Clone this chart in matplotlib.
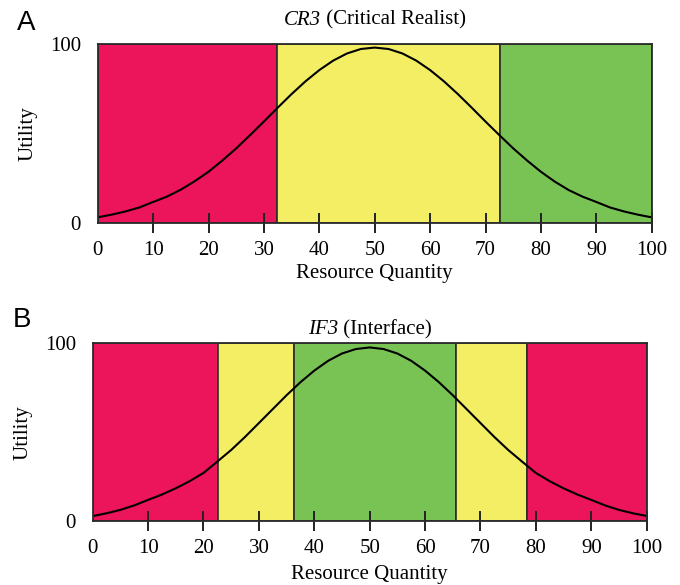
import matplotlib
matplotlib.use("Agg")
import matplotlib.pyplot as plt
from matplotlib.patches import Rectangle
from matplotlib.offsetbox import TextArea, HPacker, AnchoredOffsetbox

plt.rcParams['font.family'] = ['Liberation Serif', 'DejaVu Serif']

# resource axis sampled every 2.5 units
quantity = [0, 2.5, 5, 7.5, 10, 12.5, 15, 17.5, 20, 22.5, 25, 27.5, 30, 32.5, 35,
            37.5, 40, 42.5, 45, 47.5, 50, 52.5, 55, 57.5, 60, 62.5, 65, 67.5, 70,
            72.5, 75, 77.5, 80, 82.5, 85, 87.5, 90, 92.5, 95, 97.5, 100]

utility_cr3 = [3.0, 4.5, 6.3, 8.5, 11.6, 14.6, 18.5, 23.2, 28.5, 34.8, 41.6, 49.0,
               56.6, 64.4, 72.0, 79.1, 85.4, 90.7, 94.7, 97.2, 98.0, 97.2, 94.7,
               90.7, 85.4, 79.1, 72.0, 64.4, 56.6, 49.0, 41.6, 34.8, 28.5, 23.0,
               18.3, 14.6, 11.6, 8.5, 6.3, 4.5, 3.0]

utility_if3 = [2.9, 4.5, 6.4, 8.9, 12.0, 15.0, 18.5, 22.5, 27.1, 33.5, 40.0, 47.3,
               55.1, 62.9, 70.7, 78.0, 84.5, 90.0, 94.1, 96.6, 97.5, 96.6, 94.1,
               90.0, 84.5, 78.0, 70.7, 62.9, 55.1, 47.3, 40.0, 33.5, 27.1, 22.5,
               18.5, 15.0, 12.0, 8.9, 6.4, 4.5, 3.0]

# zones: (start, end, colour name)
zones_cr3 = [(0, 32.4, 'red'), (32.4, 72.6, 'yellow'), (72.6, 100, 'green')]
zones_if3 = [(0, 22.7, 'red'), (22.7, 36.4, 'yellow'), (36.4, 65.6, 'green'),
             (65.6, 78.4, 'yellow'), (78.4, 100, 'red')]

x_ticks = [0, 10, 20, 30, 40, 50, 60, 70, 80, 90, 100]
y_ticks = [0, 100]

colours = {'red': '#EC145A', 'yellow': '#F4EE65', 'green': '#79C355'}


def add_title(ax, code, name, lift):
    # italic model code followed by upright description, centred above the axes
    parts = HPacker(children=[
        TextArea(code, textprops=dict(fontsize=15, style='italic')),
        TextArea(' (' + name + ')', textprops=dict(fontsize=15)),
    ], align='baseline', pad=0, sep=0)
    box = AnchoredOffsetbox(loc='lower center', child=parts, pad=0, borderpad=0,
                            frameon=False, bbox_to_anchor=(0.5, 1 + lift),
                            bbox_transform=ax.transAxes)
    ax.add_artist(box)


def draw_panel(ax, zones, utility, code, name, title_lift, xlabel_pad, floor=0):
    for start, end, c in zones:
        bottom = floor if c == 'green' else 0
        ax.add_patch(Rectangle((start, bottom), end - start, 100 - bottom,
                               facecolor=colours[c], edgecolor='#2b2b2b',
                               linewidth=1.2, zorder=1))
    ax.plot(quantity, utility, color='black', linewidth=1.5, zorder=3)
    ax.set_xlim(0, 100)
    ax.set_ylim(0, 100)
    ax.set_xticks(x_ticks)
    ax.set_yticks(y_ticks)
    ax.tick_params(axis='x', direction='inout', length=14, width=1.4,
                   pad=6, labelsize=15, color='#222222')
    ax.tick_params(axis='y', length=0, pad=12, labelsize=15)
    ax.xaxis.get_major_ticks()[0].tick1line.set_visible(False)
    for s in ax.spines.values():
        s.set_linewidth(1.3)
        s.set_color('#2b2b2b')
        s.set_zorder(4)
    ax.set_xlabel('Resource Quantity', fontsize=15, labelpad=xlabel_pad)
    ax.set_ylabel('Utility', fontsize=15, labelpad=9)
    add_title(ax, code, name, title_lift)


fig = plt.figure(figsize=(6.8, 5.85), dpi=100)
ax_a = fig.add_axes([0.1437, 0.6193, 0.8147, 0.3055])
ax_b = fig.add_axes([0.1363, 0.1089, 0.8147, 0.3048])

draw_panel(ax_a, zones_cr3, utility_cr3, 'CR3', 'Critical Realist', 0.08, 3)
draw_panel(ax_b, zones_if3, utility_if3, 'IF3', 'Interface', 0.02, 5)

fig.text(0.025, 0.948, 'A', family='Liberation Sans', fontsize=20)
fig.text(0.019, 0.441, 'B', family='Liberation Sans', fontsize=20)

fig.savefig('out.png', dpi=100)
